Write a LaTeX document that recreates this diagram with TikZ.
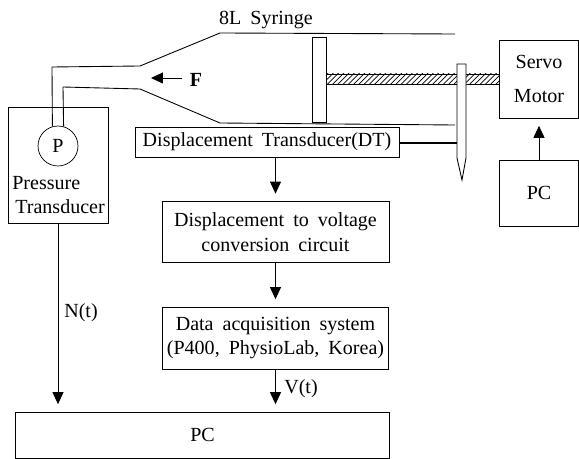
\documentclass[tikz,border=0pt]{standalone}
\usepackage{fontspec}
\setmainfont[WordSpace=1.8]{Liberation Serif}
\usetikzlibrary{arrows.meta,patterns}
\begin{document}
\begin{tikzpicture}[
    x=0.02cm, y=-0.02cm,
    every node/.style={font=\fontsize{11.4}{14}\selectfont},
    box/.style={rectangle, draw, inner sep=0pt, align=center},
    label/.style={inner sep=0pt, align=center},
    part/.style={line width=0.5pt},
    arrow/.style={-{Triangle[length=0.24cm,width=0.22cm]}, line width=0.5pt, shorten >=0.15cm}
]
    \useasboundingbox (0,0) rectangle (579,459);

    % syringe body
    \draw[part] (52,67) -- (140,66) -- (220,33) -- (455,34);
    \draw[part] (63,87) -- (140,89) -- (220,123) -- (455,125);
    \node[label] (syringe) at (266,20) {8L Syringe};

    % pressure side
    \node[box, minimum width=2cm, minimum height=2.32cm] (pressure) at (58,165) {};
    \node[box, circle, minimum size=0.8cm, fill=white] (bulb) at (58,146) {P};
    \draw[part] (52,67) -- (bulb.106);
    \draw[part] (63,87) -- (bulb.74);
    \node[label, anchor=west] (pressurea) at (12,183) {Pressure};
    \node[label, anchor=west] (pressureb) at (15,207) {Transducer};

    % force
    \node[label] (force) at (196,80) {\textbf{F}};
    \coordinate (forcetip) at (151,78);
    \draw[arrow, shorten >=0pt] (182,78) -- (forcetip);

    % rod, piston and probe
    \node[box, minimum width=1.58cm, minimum height=1.56cm] (servo) at (539,79) {Servo\\[0.17cm]Motor};
    \node[box, minimum width=0.28cm, minimum height=1.7cm] (piston) at (319,79.5) {};
    \draw[part, pattern=north east lines] (piston.east |- 0,74) rectangle (servo.west |- 0,84);
    \draw[part, fill=white] (457,64) -- (466,64) -- (466,158) -- (462,180) -- (457,158) -- cycle;
    \coordinate (probejoin) at (457,143);

    % signal chain
    \node[box, minimum width=5.28cm, minimum height=0.6cm] (dt) at (267,142) {Displacement Transducer(DT)};
    \node[box, minimum width=4.54cm, minimum height=1.22cm] (conv) at (275.5,232) {Displacement to voltage\\conversion circuit};
    \node[box, minimum width=4.52cm, minimum height=1.24cm] (daq) at (275.5,338) {Data acquisition system\\(P400, PhysioLab, Korea)};
    \node[box, minimum width=7.47cm, minimum height=0.92cm] (pcmain) at (202.5,435) {PC};
    \node[box, minimum width=1.58cm, minimum height=1.32cm] (pcservo) at (539,193) {PC};

    \draw[line width=1pt] (dt.east |- probejoin) -- (probejoin);
    \draw[arrow] (conv.north |- dt.south) -- (conv.north);
    \draw[arrow] (conv) -- (daq);
    \draw[arrow] (daq.south) -- (daq.south |- pcmain.north);
    \draw[arrow] (pressure.south) -- (pressure.south |- pcmain.north);
    \draw[arrow] (pcservo) -- (servo);

    \node[label] (nsignal) at (81,313) {N(t)};
    \node[label] (vsignal) at (301,389) {V(t)};
\end{tikzpicture}
\end{document}
